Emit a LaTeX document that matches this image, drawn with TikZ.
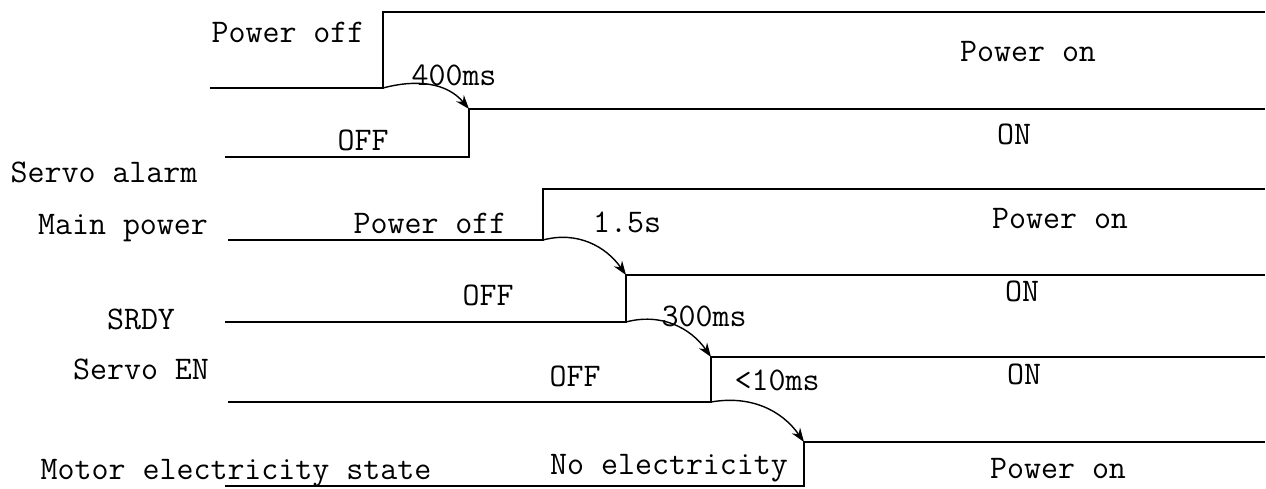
\documentclass[tikz,border=0pt]{standalone}
\usepackage{fontspec}
\usetikzlibrary{arrows.meta}
\begin{document}
\begin{tikzpicture}[x=1pt,y=-1pt,
  sig/.style={line width=2pt, line join=miter},
  lbl/.style={inner sep=0pt, yshift=-5pt, font=\ttfamily\fontsize{33}{35}\selectfont, text height=0.62em, text depth=0em},
  dly/.style={line width=1.4pt, -{Stealth[length=14pt,width=10pt]}}]
\useasboundingbox[fill=white] (0,0) rectangle (1266,488);
% signal corner coordinates
\coordinate (p0) at (210,88);  \coordinate (p1) at (383,88);  \coordinate (p2) at (383,12);  \coordinate (p3) at (1265,12);
\coordinate (a0) at (225,157); \coordinate (a1) at (469,157); \coordinate (a2) at (469,109); \coordinate (a3) at (1265,109);
\coordinate (m0) at (228,240); \coordinate (m1) at (543,240); \coordinate (m2) at (543,189); \coordinate (m3) at (1265,189);
\coordinate (r0) at (225,322); \coordinate (r1) at (626,322); \coordinate (r2) at (626,275); \coordinate (r3) at (1265,275);
\coordinate (e0) at (228,402); \coordinate (e1) at (711,402); \coordinate (e2) at (711,357); \coordinate (e3) at (1265,357);
\coordinate (t0) at (225,486); \coordinate (t1) at (804,486); \coordinate (t2) at (804,442); \coordinate (t3) at (1265,442);
\draw[sig] (p0) -- (p1) -- (p2) -- (p3);
\draw[sig] (a0) -- (a1) -- (a2) -- (a3);
\draw[sig] (m0) -- (m1) -- (m2) -- (m3);
\draw[sig] (r0) -- (r1) -- (r2) -- (r3);
\draw[sig] (e0) -- (e1) -- (e2) -- (e3);
\draw[sig] (t0) -- (t1) -- (t2) -- (t3);
% delay arrows
\draw[dly] (p1) to[out=15,in=130] (a2);
\draw[dly] (m1) to[out=15,in=125] (r2);
\draw[dly] (r1) to[out=15,in=125] (e2);
\draw[dly] (e1) to[out=10,in=125] (t2);
% labels
\node[lbl] (l1) at (288,34) {Power off};
\node[lbl] (l2) at (454,77) {400ms};
\node[lbl] (l3) at (363,142) {OFF};
\node[lbl] (l4) at (104,174) {Servo alarm};
\node[lbl] (l5) at (1028,53) {Power on};
\node[lbl] (l6) at (1014,136) {ON};
\node[lbl] (l7) at (123,226) {Main power};
\node[lbl] (l8) at (430,225) {Power off};
\node[lbl] (l9) at (627,224) {1.5s};
\node[lbl] (l10) at (1060,220) {Power on};
\node[lbl] (l11) at (488,297) {OFF};
\node[lbl] (l12) at (1022,293) {ON};
\node[lbl] (l13) at (141,321) {SRDY};
\node[lbl] (l14) at (704,318) {300ms};
\node[lbl] (l15) at (141,371) {Servo EN};
\node[lbl] (l16) at (575,378) {OFF};
\node[lbl] (l17) at (1024,376) {ON};
\node[lbl] (l18) at (777,382) {<10ms};
\node[lbl] (l19) at (236,471) {Motor electricity state};
\node[lbl] (l20) at (669,466) {No electricity};
\node[lbl] (l21) at (1058,470) {Power on};
\end{tikzpicture}
\end{document}
